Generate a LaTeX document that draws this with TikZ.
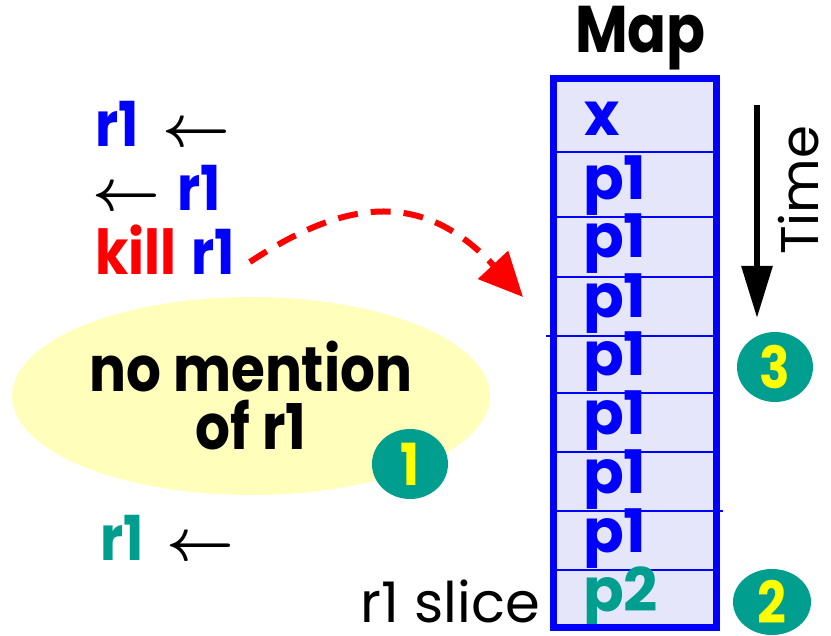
\RequirePackage{fix-cm}
\documentclass[tikz,border=0pt]{standalone}
\usepackage{fontspec}
\setmainfont{Poppins}
\newfontfamily\gothic{Poppins}[FakeStretch=0.87]
\usetikzlibrary{arrows.meta,shapes.geometric}

\definecolor{mapblue}{RGB}{0,0,255}
\definecolor{mapfill}{RGB}{230,230,250}
\definecolor{badgeteal}{RGB}{0,158,142}
\definecolor{noteyellow}{RGB}{255,255,187}
\definecolor{digityellow}{RGB}{255,255,0}
\definecolor{killred}{RGB}{255,0,0}

\newcommand\bigbold{\gothic\fontsize{62}{62}\bfseries\selectfont}
\newcommand\stmtarrow{{\fontsize{59}{59}\selectfont\boldmath$\leftarrow$}}

\tikzset{
  stmt/.style={anchor=base west, inner sep=0pt, font=\bigbold},
  cellval/.style={anchor=base west, inner sep=0pt,
    font=\fontsize{60}{60}\bfseries\selectfont, text=mapblue},
  rowline/.style={draw=mapblue, line width=2pt},
  badge/.style={ellipse, fill=badgeteal, minimum width=76pt, minimum height=70pt,
    inner sep=0pt, text=digityellow, font=\gothic\fontsize{58}{58}\bfseries\selectfont},
  note/.style={ellipse, fill=noteyellow, minimum width=478pt, minimum height=198pt,
    inner sep=0pt, align=center, font=\gothic\fontsize{63}{58}\bfseries\selectfont},
  killarrow/.style={draw=killred, line width=6pt, dash pattern=on 20pt off 13pt,
    -{Triangle[length=44pt,width=40pt]}},
  timearrow/.style={draw=black, line width=6pt, -{Triangle[length=52pt,width=30pt]}},
}

\begin{document}
\begin{tikzpicture}[x=1pt,y=-1pt]
\useasboundingbox (0,0) rectangle (831,636);

% statements on register r1
\node[stmt] (s1) at (95,147) {\textcolor{mapblue}{r1}\hspace{24pt}\stmtarrow};
\node[stmt] (s2) at (92,211) {\stmtarrow\hspace{17pt}\textcolor{mapblue}{r1}};
\node[stmt] (s3) at (95,275) {\textcolor{killred}{kill}\hspace{15pt}\textcolor{mapblue}{r1}};
\node[stmt] (s4) at (100,560) {\textcolor{badgeteal}{r1}\hspace{23pt}\stmtarrow};

% region without r1
\node[note] (gap) at (251,396) {no mention\\of r1};
\node[badge] (b1) at (410,464) {1};

% the map table
\node[anchor=base west, inner sep=0pt, font=\gothic\fontsize{66}{66}\bfseries\selectfont] (title) at (575,53) {Map};
\fill[mapfill] (553.5,79) rectangle (716.5,627);
\foreach \y in {152,217,277,393,452,570}
  \draw[rowline] (553.5,\y) -- (716.5,\y);
\draw[rowline] (546,336) -- (716.5,336);
\draw[rowline] (553.5,511) -- (723,511);
\node[cellval] (m0) at (584,136) {x};
\foreach \y [count=\i] in {200,258,318,376,435,494,552}
  \node[cellval] (m\i) at (583,\y) {p1};
\node[cellval, text=badgeteal] (m8) at (583,611) {p2};
\draw[mapblue, line width=7pt] (553.5,79) rectangle (716.5,627);
\coordinate (mapentry) at (523,297);

\node[anchor=base east, inner sep=0pt, font=\fontsize{56}{56}\selectfont] (slice) at (540,622) {r1 slice};

% time axis
\coordinate (t0) at (757,105);
\coordinate (t1) at (757,318);
\draw[timearrow] (t0) -- (t1);
\node[rotate=90, anchor=base west, inner sep=0pt, font=\fontsize{53}{53}\selectfont] (time) at (818,255) {Time};

\node[badge] (b3) at (775,367) {3};
\node[badge, minimum width=78pt, minimum height=66pt] (b2) at (772,602) {2};

% the kill maps r1 to a fresh entry
\draw[killarrow] ([shift={(15,-13)}]s3.base east) .. controls (350,196) and (425,192) .. (mapentry);
\end{tikzpicture}
\end{document}
